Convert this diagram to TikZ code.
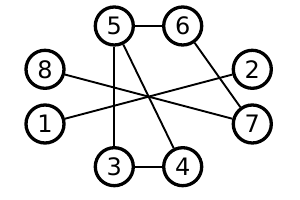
\documentclass[tikz,border=0pt]{standalone}
\usepackage{fontspec}
\setmainfont{DejaVu Sans}
\begin{document}
\begin{tikzpicture}[x=1pt,y=1pt,
  vert/.style={circle,draw=black,line width=3.3pt,minimum size=38pt,inner sep=0pt,font=\fontsize{24}{24}\selectfont},
  edge/.style={line width=1.9pt}]
\useasboundingbox (0,0) rectangle (300,200);
\node[vert] (n5) at (114.3,174) {5};
\node[vert] (n6) at (182.7,174) {6};
\node[vert] (n8) at (45,130.7) {8};
\node[vert] (n2) at (252.3,130.7) {2};
\node[vert] (n1) at (45,76) {1};
\node[vert] (n7) at (252.3,76) {7};
\node[vert] (n3) at (114.3,33.3) {3};
\node[vert] (n4) at (182.7,33.3) {4};
\draw[edge] (n5) -- (n6);
\draw[edge] (n3) -- (n4);
\draw[edge] (n5) -- (n3);
\draw[edge] (n5) -- (n4);
\draw[edge] (n6) -- (n7);
\draw[edge] (n8) -- (n7);
\draw[edge] (n1) -- (n2);
\end{tikzpicture}
\end{document}
